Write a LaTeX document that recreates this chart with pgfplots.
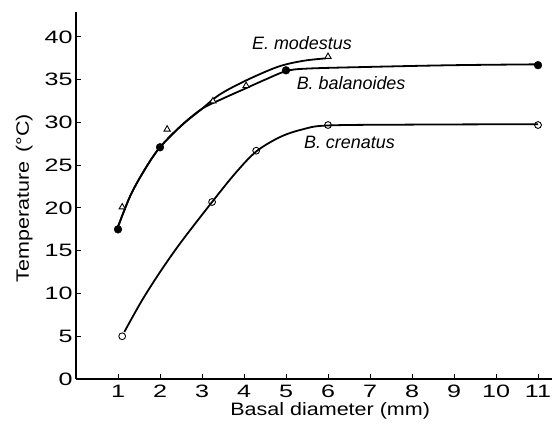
\documentclass[border=0pt]{standalone}
\usepackage{fontspec}
\setmainfont{Liberation Sans}
\newfontfamily\widefont[FakeStretch=1.2]{Liberation Sans}
\newfontfamily\digitfont[FakeStretch=1.4]{Liberation Sans}
\usepackage{pgfplots}
\pgfplotsset{compat=1.18}

\begin{document}
\begin{tikzpicture}
\begin{axis}[
  at={(0,0)}, anchor=south west,
  scale only axis,
  width=476bp, height=367bp,
  xmin=0, xmax=11.333,
  ymin=0, ymax=42.92,
  axis lines=left,
  axis line style={-, line width=1.1bp},
  tick align=inside,
  major tick length=5.5bp,
  tick style={line width=1bp, black},
  xtick={1,2,...,11},
  ytick={0,5,...,40},
  /pgf/number format/assume math mode=true,
  tick label style={font=\digitfont\fontsize{18}{20}\selectfont},
  xticklabel style={inner sep=1bp, yshift=-5bp},
  label style={font=\widefont\fontsize{18}{20}\selectfont, inner sep=1bp},
  xlabel={Basal diameter (mm)},
  ylabel={Temperature\hspace{0.5em}(°C)},
  xlabel style={at={(axis description cs:0.534,-0.1008)}, anchor=base},
  ylabel style={at={(axis description cs:-0.109,0.493)}, anchor=center},
  clip=false,
]

% fitted curve, E. modestus
\addplot[black, line width=1.8bp, smooth, tension=0.55] coordinates {
  (1.0,17.8) (1.3,21.5) (1.65,24.6) (2.0,27.1) (2.5,29.6) (3.0,31.6)
  (3.4,33.2) (4.0,34.8) (4.8,36.5) (5.4,37.2) (5.95,37.5)
};
% fitted curve, B. balanoides
\addplot[black, line width=1.8bp, smooth, tension=0.55] coordinates {
  (1.0,17.8) (1.3,21.5) (1.65,24.6) (2.0,27.1) (2.5,29.6) (3.0,31.6)
  (3.5,32.8) (4.0,33.9) (4.5,35.0) (5.0,36.0) (5.5,36.3) (7,36.5)
  (9,36.7) (11,36.8)
};
% fitted curve, B. crenatus
\addplot[black, line width=1.8bp, smooth, tension=0.55] coordinates {
  (1.15,5.5) (1.56,9.1) (2.0,12.5) (2.5,16.0) (3.24,20.7) (3.8,24.1)
  (4.29,26.6) (4.86,28.3) (5.4,29.2) (6,29.65) (8,29.75) (11,29.8)
};

% observations, E. modestus
\addplot[only marks, mark=triangle*, mark size=3.6bp,
  mark options={fill=white, draw=black, line width=0.9bp}] coordinates {
  (1.1,20.1) (2.17,29.2) (3.26,32.5) (4.05,34.3) (6.0,37.7)
};
% observations, B. balanoides
\addplot[only marks, mark=*, mark size=3.9bp,
  mark options={fill=black, draw=black}] coordinates {
  (1.0,17.5) (2.0,27.1) (5.0,36.1) (11,36.7)
};
% observations, B. crenatus
\addplot[only marks, mark=o, mark size=3.4bp,
  mark options={fill=white, draw=black, line width=0.9bp}] coordinates {
  (1.1,5.0) (3.24,20.7) (4.29,26.7) (6.0,29.7) (11,29.7)
};

\node[font=\fontsize{18}{20}\selectfont\itshape] at (axis cs:5.38,39.3) {E. modestus};
\node[font=\fontsize{18}{20}\selectfont\itshape] at (axis cs:6.55,34.6) {B. balanoides};
\node[font=\fontsize{18}{20}\selectfont\itshape] at (axis cs:6.51,27.7) {B. crenatus};
\end{axis}
\pgfresetboundingbox
\path[use as bounding box] (-76bp,-50bp) rectangle (476bp,379bp);
\end{tikzpicture}
\end{document}
